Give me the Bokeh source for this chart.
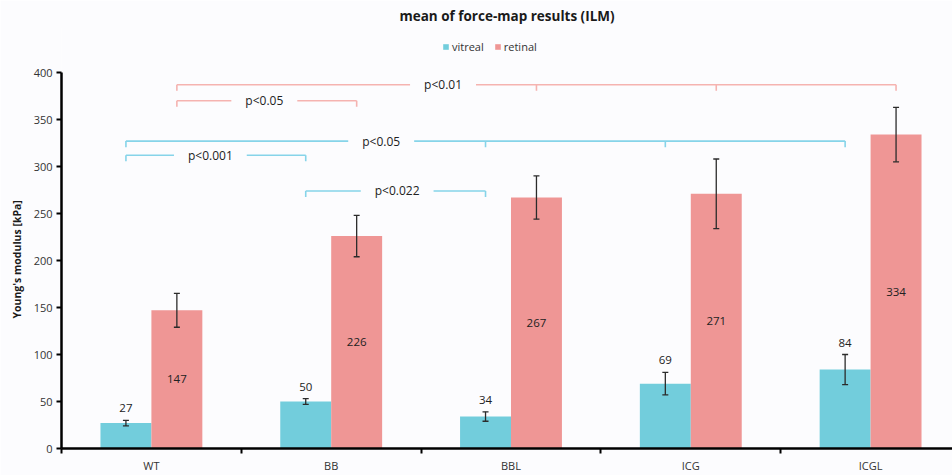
from bokeh.plotting import figure
from bokeh.models import (ColumnDataSource, Range1d, FixedTicker, Whisker, TeeHead,
                          Legend, LegendItem, Title)
from bokeh.core.properties import value
from bokeh.embed import file_html
from bokeh.resources import INLINE

# ---------------- data ----------------
categories = ["WT", "BB", "BBL", "ICG", "ICGL"]
vitreal = [27, 50, 34, 69, 84]
retinal = [147, 226, 267, 271, 334]
vitreal_err = [3, 3, 5, 12, 16]
retinal_err = [18, 22, 23, 37, 29]

sig_series = ["retinal", "retinal", "vitreal", "vitreal", "vitreal"]
sig_groups = [["WT", "BBL", "ICG", "ICGL"], ["WT", "BB"],
              ["WT", "BBL", "ICG", "ICGL"], ["WT", "BB"], ["BB", "BBL"]]
sig_level = [387, 370, 327, 312, 274]
sig_label = ["p<0.01", "p<0.05", "p<0.05", "p<0.001", "p<0.022"]

# ---------------- layout / style ----------------
FONT = "Open Sans"
BG = "#fcfcfe"
C_VIT = "#72cddc"
C_RET = "#ef9695"
C_VIT_LINE = "#86d4e9"
C_RET_LINE = "#f5b3b0"
BAR_W = 0.2833
OFF = {"vitreal": -BAR_W / 2, "retinal": BAR_W / 2}
sig_label_x = [2.122, 1.128, 1.778, 0.828, 1.867]
DROP = 6.5
W, H = 952, 475
TOP, BOTTOM, LEFT = 27, 27, 60
PX_PER_UNIT = 0.94
FRAME_H = H - TOP - BOTTOM
Y_END = FRAME_H / PX_PER_UNIT

idx = {c: i for i, c in enumerate(categories)}
x_vit = [i + 0.5 + OFF["vitreal"] for i in range(len(categories))]
x_ret = [i + 0.5 + OFF["retinal"] for i in range(len(categories))]

p = figure(width=W, height=H, output_backend="svg", toolbar_location=None,
           x_range=Range1d(0, (W - LEFT) / 180), y_range=Range1d(0, Y_END),
           min_border_left=LEFT, min_border_right=0, min_border_bottom=BOTTOM,
           min_border_top=TOP)
p.background_fill_color = BG
p.border_fill_color = BG
p.outline_line_color = None
p.grid.visible = False

p.title.text = "mean of force-map results (ILM)"
p.title.align = "center"
p.title.text_font = FONT
p.title.text_font_style = "bold"
p.title.text_font_size = "13.5px"
p.title.text_color = "#1a1a1a"
p.title.standoff = 6

src_v = ColumnDataSource(dict(x=x_vit, top=vitreal, lo=[v - e for v, e in zip(vitreal, vitreal_err)],
                              hi=[v + e for v, e in zip(vitreal, vitreal_err)],
                              lab=[str(v) for v in vitreal]))
src_r = ColumnDataSource(dict(x=x_ret, top=retinal, lo=[v - e for v, e in zip(retinal, retinal_err)],
                              hi=[v + e for v, e in zip(retinal, retinal_err)],
                              mid=[v / 2 for v in retinal],
                              lab=[str(v) for v in retinal]))

rv = p.vbar(x="x", top="top", width=BAR_W, source=src_v, fill_color=C_VIT, line_color=None)
rr = p.vbar(x="x", top="top", width=BAR_W, source=src_r, fill_color=C_RET, line_color=None)

for src in (src_v, src_r):
    w = Whisker(base="x", upper="hi", lower="lo", source=src, line_color="#2b2b2b", line_width=1.3,
                level="annotation",
                upper_head=TeeHead(size=6, line_color="#2b2b2b", line_width=1.3),
                lower_head=TeeHead(size=6, line_color="#2b2b2b", line_width=1.3))
    p.add_layout(w)

p.text(x="x", y="hi", text="lab", source=src_v, text_align="center", text_baseline="bottom",
       y_offset=-8, text_font=value(FONT), text_font_size="11.5px", text_color="#222222")
p.text(x="x", y="mid", text="lab", source=src_r, text_align="center", text_baseline="middle",
       text_font=value(FONT), text_font_size="11.5px", text_color="#222222")

# significance brackets
for ser, groups, lvl, lab, lx in zip(sig_series, sig_groups, sig_level, sig_label, sig_label_x):
    col = C_VIT_LINE if ser == "vitreal" else C_RET_LINE
    xs = [idx[g] + 0.5 + OFF[ser] for g in groups]
    x0 = xs + [min(xs)]
    x1 = xs + [max(xs)]
    y0 = [lvl] * len(xs) + [lvl]
    y1 = [lvl - DROP] * len(xs) + [lvl]
    p.segment(x0=x0, y0=y0, x1=x1, y1=y1, line_color=col, line_width=1.6)
    p.text(x=[lx], y=[lvl], text=[lab], text_align="center", text_baseline="middle",
           text_font=value(FONT), text_font_size="12px", text_color="#222222",
           background_fill_color=BG, padding=(14, 1))

# axes
yax = p.yaxis[0]
yax.ticker = FixedTicker(ticks=list(range(0, 401, 50)))
yax.bounds = (0, 400)
yax.axis_line_width = 2.5
yax.axis_line_color = "black"
yax.major_tick_out = 5
yax.major_tick_in = 0
yax.major_tick_line_width = 2
yax.minor_tick_line_color = None
yax.major_label_text_font = FONT
yax.major_label_text_font_size = "11px"
yax.major_label_text_color = "#333333"
yax.major_label_standoff = 4

ytitle = Title(text="Young's modulus [kPa]", align="left", offset=130, standoff=14,
               text_font=FONT, text_font_style="bold", text_font_size="10.5px",
               text_color="#1a1a1a")
p.add_layout(ytitle, "left")

xax = p.xaxis[0]
xax.ticker = FixedTicker(ticks=[i + 0.5 for i in range(len(categories))],
                         minor_ticks=list(range(len(categories) + 1)))
xax.major_label_overrides = {i + 0.5: c for i, c in enumerate(categories)}
xax.axis_line_width = 2.5
xax.axis_line_color = "black"
xax.major_tick_line_color = None
xax.major_tick_out = 0
xax.minor_tick_out = 5
xax.minor_tick_in = 0
xax.minor_tick_line_width = 2
xax.minor_tick_line_color = "black"
xax.major_label_text_font = FONT
xax.major_label_text_font_size = "11px"
xax.major_label_text_color = "#333333"
xax.major_label_standoff = 4

legend = Legend(items=[LegendItem(label="vitreal", renderers=[rv]),
                       LegendItem(label="retinal", renderers=[rr])],
                orientation="horizontal", location=(381, 394),
                background_fill_alpha=0, border_line_color=None,
                glyph_width=7, glyph_height=7, label_standoff=3, spacing=10,
                padding=0, margin=0, label_height=14,
                label_text_font=FONT, label_text_font_size="11px", label_text_color="#333333")
p.add_layout(legend, "center")

open("out.html", "w").write(file_html(p, INLINE))
